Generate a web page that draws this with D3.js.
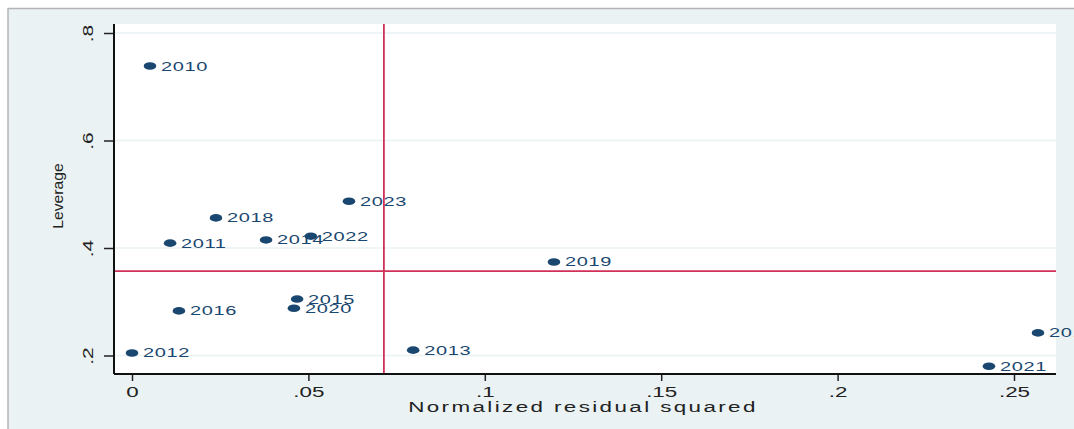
<!DOCTYPE html>
<html>
<head>
<meta charset="utf-8">
<script src="https://cdn.jsdelivr.net/npm/d3@7"></script>
<style>
  body { margin: 0; background: #fff; }
  text { font-family: "Liberation Sans", Arial, sans-serif; }
</style>
</head>
<body>
<div id="chart"></div>
<script>
var years = ["2010","2011","2012","2013","2014","2015","2016","2017","2018","2019","2020","2021","2022","2023"];
var residSq = [0.0051, 0.0108, 0.0000, 0.0797, 0.0380, 0.0468, 0.0133, 0.2568, 0.0238, 0.1196, 0.0459, 0.2429, 0.0507, 0.0615];
var leverage = [0.7386, 0.409, 0.2047, 0.210, 0.415, 0.305, 0.283, 0.242, 0.456, 0.374, 0.288, 0.180, 0.422, 0.487];

var xTicks = [0, 0.05, 0.1, 0.15, 0.2, 0.25];
var xTickLabels = ["0", ".05", ".1", ".15", ".2", ".25"];
var yTicks = [0.2, 0.4, 0.6, 0.8];
var yTickLabels = [".2", ".4", ".6", ".8"];

var meanResid = 0.0714;   // vertical reference line
var meanLev = 0.357;      // horizontal reference line

var width = 1074,
    height = 429;
var pLeft = 114, pRight = 1056, pTop = 24, pBottom = 374;
var navy = "#1a476f", red = "#d0305a", bg = "#eaf2f3";

var svg = d3.select("#chart").append("svg")
            .attr("width", width)
            .attr("height", height);

// outer graph region
svg.append("rect").attr("x", 8).attr("y", 8)
   .attr("width", width - 8).attr("height", height - 8)
   .attr("fill", bg);
svg.append("line").attr("x1", 8).attr("x2", width).attr("y1", 8.5).attr("y2", 8.5)
   .attr("stroke", "#b4b4b4").attr("stroke-width", 1.5);
svg.append("line").attr("x1", 8).attr("x2", 8).attr("y1", 8).attr("y2", height)
   .attr("stroke", "#b4b4b4").attr("stroke-width", 1.5);

// plot region
svg.append("rect").attr("x", pLeft).attr("y", pTop)
   .attr("width", pRight - pLeft).attr("height", pBottom - pTop)
   .attr("fill", "#fff");

var x = d3.scaleLinear().domain([0, 0.25]).range([132, 1014]);
var y = d3.scaleLinear().domain([0.2, 0.8]).range([355.5, 33]);

// gridlines
svg.append("g").selectAll("line").data(yTicks).enter().append("line")
   .attr("x1", pLeft).attr("x2", pRight)
   .attr("y1", function(d){ return y(d); }).attr("y2", function(d){ return y(d); })
   .attr("stroke", bg).attr("stroke-width", 1.5);

// reference lines
svg.append("line").attr("x1", x(meanResid)).attr("x2", x(meanResid))
   .attr("y1", pTop).attr("y2", pBottom)
   .attr("stroke", red).attr("stroke-width", 1.8);
svg.append("line").attr("x1", pLeft).attr("x2", pRight)
   .attr("y1", y(meanLev)).attr("y2", y(meanLev))
   .attr("stroke", red).attr("stroke-width", 1.8);

// x axis
var xAxis = svg.append("g").attr("transform", "translate(0," + pBottom + ")")
   .call(d3.axisBottom(x).tickValues(xTicks).tickSize(7).tickPadding(6)
         .tickFormat(function(d, i){ return xTickLabels[i]; }));
xAxis.select(".domain").remove();
xAxis.selectAll("line").attr("stroke", "#222").attr("stroke-width", 1.5);
xAxis.selectAll("text")
     .attr("fill", "#222")
     .style("font-size", "14px")
     .attr("transform", "scale(1.6,1)");

// y axis
var yAxis = svg.append("g").attr("transform", "translate(" + pLeft + ",0)")
   .call(d3.axisLeft(y).tickValues(yTicks).tickSize(10)
         .tickFormat(function(d, i){ return yTickLabels[i]; }));
yAxis.select(".domain").remove();
yAxis.selectAll("line").attr("stroke", "#222").attr("stroke-width", 1.5);
yAxis.selectAll("text")
     .attr("x", 0).attr("y", 0).attr("dy", 0)
     .attr("fill", "#222")
     .style("font-size", "14px")
     .style("text-anchor", "middle")
     .attr("transform", "translate(-21,0) rotate(-90) scale(1.5,1)");

// axis lines
svg.append("line").attr("x1", pLeft).attr("x2", pRight).attr("y1", pBottom).attr("y2", pBottom)
   .attr("stroke", "#111").attr("stroke-width", 2);
svg.append("line").attr("x1", pLeft).attr("x2", pLeft).attr("y1", pTop).attr("y2", pBottom)
   .attr("stroke", "#111").attr("stroke-width", 2);

// axis titles
svg.append("text")
   .attr("transform", "translate(583,412) scale(1.6,1)")
   .style("text-anchor", "middle")
   .style("font-size", "14px")
   .style("letter-spacing", "1.5px")
   .attr("fill", "#222")
   .text("Normalized residual squared");
svg.append("text")
   .attr("transform", "translate(63,196) rotate(-90) scale(1.05,1)")
   .style("text-anchor", "middle")
   .style("font-size", "15px")
   .attr("fill", "#222")
   .text("Leverage");

// points and labels
var pts = svg.append("g").selectAll("g").data(years).enter().append("g")
   .attr("transform", function(d, i){ return "translate(" + x(residSq[i]) + "," + y(leverage[i]) + ")"; });
pts.append("ellipse").attr("rx", 6.3).attr("ry", 3.8).attr("fill", navy);
pts.append("text")
   .attr("transform", "translate(11,0) scale(1.6,1)")
   .attr("dy", "0.36em")
   .style("font-size", "12.5px")
   .style("letter-spacing", "0.4px")
   .attr("fill", navy)
   .text(function(d){ return d; });
</script>
</body>
</html>
